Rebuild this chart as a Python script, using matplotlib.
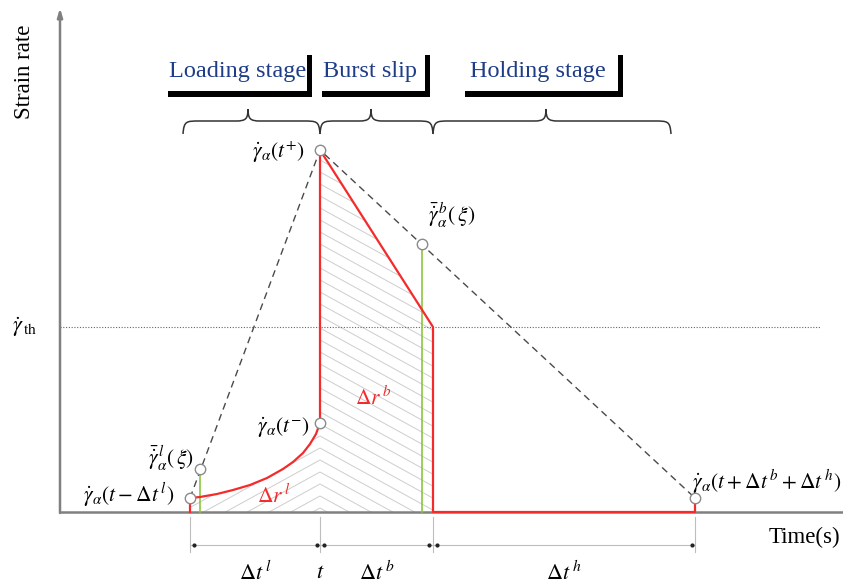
import numpy as np
import matplotlib
matplotlib.use("Agg")
import matplotlib.pyplot as plt
from matplotlib.path import Path
from matplotlib.patches import PathPatch, Polygon, Rectangle
from matplotlib.collections import LineCollection

plt.rcParams['font.family'] = ['Liberation Serif', 'DejaVu Serif']
plt.rcParams['mathtext.fontset'] = 'stix'

# ---------------- data (schematic units) ----------------
# key instants on the time axis
t_start = 13.0        # t - dt^l
t_xi_load = 14.0      # xi in loading stage
t_mid = 26.0          # t
t_xi_burst = 36.2     # xi in burst stage
t_burst_end = 37.3    # t + dt^b
t_hold_end = 63.5     # t + dt^b + dt^h

# strain-rate levels
rate_start = 1.4
rate_xi_load = 4.3
rate_t_minus = 8.9
rate_peak = 36.2
rate_th = 18.5
rate_xi_burst = 26.8
rate_end = 1.4

# loading-stage red curve
load_curve_t = [13.0, 14.0, 15.7, 17.3, 19.0, 20.7, 22.3, 23.3, 24.3, 25.0, 25.6, 26.0]
load_curve_r = [1.4, 1.5, 1.8, 2.2, 2.7, 3.4, 4.3, 5.0, 5.9, 6.8, 7.8, 8.9]

stage_labels = ["Loading stage", "Burst slip", "Holding stage"]
dim_labels = [r"$\Delta t^{\,l}$", r"$t$", r"$\Delta t^{\,b}$", r"$\Delta t^{\,h}$"]

RED = '#f52a2a'
GREEN = '#8cc63f'
GRAY = '#808080'
NAVY = '#1f3c88'

fig = plt.figure(figsize=(8.43, 5.85), dpi=100)
ax = fig.add_axes([0, 0, 1, 1])
ax.set_xlim(-6.0, 78.3)
ax.set_ylim(-7.3, 51.2)
ax.axis('off')

# ---------------- axes ----------------
ax.plot([0, 78.3], [0, 0], color=GRAY, lw=1.8, zorder=3, solid_capstyle='butt')
ax.annotate('', xy=(0, 50.4), xytext=(0, -0.1),
            arrowprops=dict(arrowstyle='-|>,head_length=0.5,head_width=0.15',
                            color=GRAY, lw=1.8, shrinkA=0, shrinkB=0), zorder=3)
ax.text(-3.5, 44.0, 'Strain rate', rotation=90, ha='center', va='center', fontsize=16.5)
ax.text(78.0, -2.5, 'Time(s)', ha='right', va='center', fontsize=16.5)

# threshold
ax.plot([0, 76.0], [rate_th, rate_th], color='#666666', lw=0.8, ls=(0, (1, 1.5)), zorder=2)
ax.text(-4.8, rate_th, r'$\dot{\gamma}_{\,\mathrm{th}}$', ha='left', va='center', fontsize=16)

# ---------------- hatched regions ----------------
slope = 0.55
cs = np.arange(-20.0, 60.0, 1.2)
load_poly = Polygon(list(zip(load_curve_t, load_curve_r)) + [(t_mid, 0), (t_start, 0)],
                    closed=True, fc='none', ec='none')
burst_poly = Polygon([(t_mid, 0), (t_mid, rate_peak), (t_burst_end, rate_th), (t_burst_end, 0)],
                     closed=True, fc='none', ec='none')
ax.add_patch(load_poly)
ax.add_patch(burst_poly)
segs_l = [[(t_start, c + slope * (t_start - t_mid)), (t_mid, c)] for c in cs]
segs_b = [[(t_mid, c), (t_burst_end, c - slope * (t_burst_end - t_mid))] for c in cs]
lc_l = LineCollection(segs_l, colors='#cdcdcd', linewidths=0.7, zorder=1)
lc_b = LineCollection(segs_b, colors='#cdcdcd', linewidths=0.7, zorder=1)
ax.add_collection(lc_l)
ax.add_collection(lc_b)
lc_l.set_clip_path(load_poly)
lc_b.set_clip_path(burst_poly)

# ---------------- dashed envelope ----------------
ax.plot([t_start, t_mid, t_hold_end], [rate_start, rate_peak, rate_end],
        color='#4a4a4a', lw=1.0, ls=(0, (5, 3.5)), zorder=2)

# green lines
ax.plot([t_xi_load, t_xi_load], [0, rate_xi_load], color=GREEN, lw=1.2, zorder=4)
ax.plot([t_xi_burst, t_xi_burst], [0, rate_xi_burst], color=GREEN, lw=1.2, zorder=4)

# red path
red_x = [t_start] + load_curve_t + [t_mid, t_burst_end, t_burst_end, t_hold_end, t_hold_end]
red_y = [0] + load_curve_r + [rate_peak, rate_th, 0, 0, rate_end]
ax.plot(red_x, red_y, color=RED, lw=1.6, zorder=5, solid_joinstyle='round')

# circles
cx = [t_start, t_xi_load, t_mid, t_mid, t_xi_burst, t_hold_end]
cy = [rate_start, rate_xi_load, rate_t_minus, rate_peak, rate_xi_burst, rate_end]
ax.plot(cx, cy, 'o', ms=7.5, mfc='white', mec='#8a8a8a', mew=1.0, zorder=6, ls='none')

# ---------------- annotations ----------------
fs = 15.5
ax.text(24.5, 36.0, r'$\dot{\gamma}_{\alpha}(t^{+})$', ha='right', va='center', fontsize=fs)
ax.text(36.8, 29.7, r'$\bar{\dot{\gamma}}^{\,b}_{\alpha}(\,\xi)$', ha='left', va='center', fontsize=fs)
ax.text(25.0, 8.5, r'$\dot{\gamma}_{\alpha}(t^{-})$', ha='right', va='center', fontsize=fs)
ax.text(13.4, 5.4, r'$\bar{\dot{\gamma}}^{\,l}_{\alpha}(\,\xi)$', ha='right', va='center', fontsize=fs)
ax.text(11.4, 1.7, r'$\dot{\gamma}_{\alpha}(t-\Delta t^{\,l})$', ha='right', va='center', fontsize=fs)
ax.text(63.2, 3.0, r'$\dot{\gamma}_{\alpha}(t+\Delta t^{\,b}+\Delta t^{\,h})$', ha='left', va='center', fontsize=fs)
ax.text(31.3, 11.4, r'$\Delta r^{\,b}$', ha='center', va='center', fontsize=fs, color=RED)
ax.text(21.4, 1.6, r'$\Delta r^{\,l}$', ha='center', va='center', fontsize=fs, color=RED)

# ---------------- stage labels & bars ----------------
stage_x = [(t_start - 2.2, t_mid - 0.8), (t_mid + 0.2, t_burst_end - 0.3), (40.5, 56.3)]
stage_text_x = [17.8, 31.0, 47.8]
for (x1, x2), lab, tx in zip(stage_x, stage_labels, stage_text_x):
    ax.add_patch(Rectangle((x1, 41.5), x2 - x1, 0.55, color='black', lw=0, zorder=3))
    ax.add_patch(Rectangle((x2 - 0.55, 41.5), 0.55, 4.2, color='black', lw=0, zorder=3))
    ax.text(tx, 44.0, lab, ha='center', va='center', fontsize=17.5, color=NAVY)


def brace(x1, x2, xm, yb=39.1, ye=37.8, yt=40.3, r=1.7, r2=1.2):
    verts = [(x1, ye), (x1 + 0.1, yb), (x1 + 0.3, yb), (x1 + r, yb),
             (xm - r2, yb),
             (xm - r2 * 0.2, yb), (xm, yb + 0.2), (xm, yt),
             (xm, yb + 0.2), (xm + r2 * 0.2, yb), (xm + r2, yb),
             (x2 - r, yb),
             (x2 - 0.3, yb), (x2 - 0.1, yb), (x2, ye)]
    codes = [Path.MOVETO, Path.CURVE4, Path.CURVE4, Path.CURVE4,
             Path.LINETO,
             Path.CURVE4, Path.CURVE4, Path.CURVE4,
             Path.CURVE4, Path.CURVE4, Path.CURVE4,
             Path.LINETO,
             Path.CURVE4, Path.CURVE4, Path.CURVE4]
    ax.add_patch(PathPatch(Path(verts, codes), fc='none', ec='#333333', lw=1.1, zorder=3))


brace(12.3, t_mid, 18.8)
brace(t_mid, t_burst_end, 31.1)
brace(t_burst_end, 61.1, 48.6)

# ---------------- dimension lines ----------------
dim_t = [t_start, t_mid, t_burst_end, t_hold_end]
for xv in dim_t:
    ax.plot([xv, xv], [-0.5, -4.0], color='#bdbdbd', lw=0.8, zorder=2)
ax.plot([dim_t[0], dim_t[-1]], [-3.3, -3.3], color='#bdbdbd', lw=0.8, zorder=2)
for a, b in zip(dim_t[:-1], dim_t[1:]):
    ax.plot([a + 0.35, b - 0.35], [-3.3, -3.3], 'o', ms=2.0, color='#222222', zorder=3, ls='none')
label_x = [(dim_t[0] + dim_t[1]) / 2, dim_t[1], (dim_t[1] + dim_t[2]) / 2, (dim_t[2] + dim_t[3]) / 2]
for xv, lab in zip(label_x, dim_labels):
    ax.text(xv, -6.1, lab, ha='center', va='center', fontsize=16)

fig.savefig('out.png', dpi=100)
